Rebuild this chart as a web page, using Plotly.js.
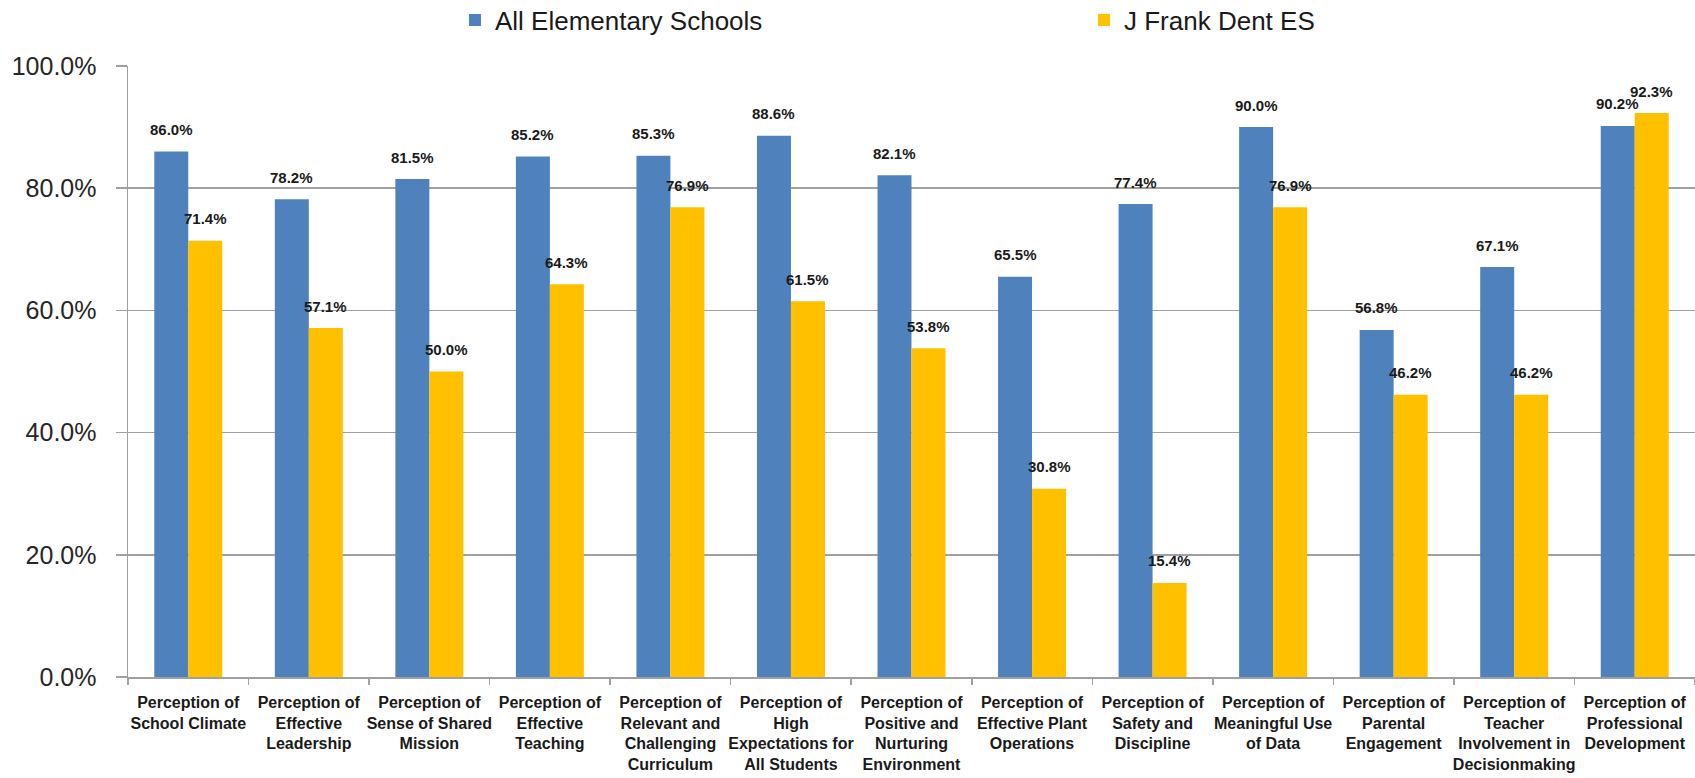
<!DOCTYPE html>
<html>
<head>
<meta charset="utf-8">
<script src="https://cdn.plot.ly/plotly-3.0.1.min.js"></script>
<style>
html,body{margin:0;padding:0;background:#fff;}
#chart{width:1695px;height:778px;}
</style>
</head>
<body>
<div id="chart"></div>
<script>
const categories = [
  "Perception of<br>School Climate",
  "Perception of<br>Effective<br>Leadership",
  "Perception of<br>Sense of Shared<br>Mission",
  "Perception of<br>Effective<br>Teaching",
  "Perception of<br>Relevant and<br>Challenging<br>Curriculum",
  "Perception of<br>High<br>Expectations for<br>All Students",
  "Perception of<br>Positive and<br>Nurturing<br>Environment",
  "Perception of<br>Effective Plant<br>Operations",
  "Perception of<br>Safety and<br>Discipline",
  "Perception of<br>Meaningful Use<br>of Data",
  "Perception of<br>Parental<br>Engagement",
  "Perception of<br>Teacher<br>Involvement in<br>Decisionmaking",
  "Perception of<br>Professional<br>Development"
];
const allElementary = [0.860, 0.782, 0.815, 0.852, 0.853, 0.886, 0.821, 0.655, 0.774, 0.900, 0.568, 0.671, 0.902];
const frankDent = [0.714, 0.571, 0.500, 0.643, 0.769, 0.615, 0.538, 0.308, 0.154, 0.769, 0.462, 0.462, 0.923];
const seriesNames = ["All Elementary Schools", "J Frank Dent ES"];
const seriesColors = ["#4F81BD", "#FFC000"];

const FONT = "Liberation Sans, Arial, sans-serif";
const traces = [allElementary, frankDent].map((vals, k) => ({
  type: "bar",
  name: seriesNames[k],
  x: categories,
  y: vals,
  marker: {color: seriesColors[k]},
  hoverinfo: "skip"
}));

const annotations = [];
[allElementary, frankDent].forEach((vals, k) => {
  vals.forEach((v, i) => {
    annotations.push({
      x: categories[i], y: v, xref: "x", yref: "y",
      text: (v * 100).toFixed(1) + "%",
      showarrow: false,
      xshift: k === 0 ? -17 : 17,
      yshift: 22,
      yanchor: "middle",
      font: {family: FONT, size: 15, color: "#1a1a1a", weight: "bold"}
    });
  });
});

const layout = {
  width: 1695, height: 778,
  margin: {l: 128, r: 0, t: 66, b: 101, autoexpand: false},
  paper_bgcolor: "#fff", plot_bgcolor: "#fff",
  barmode: "group",
  bargap: 0.436,
  bargroupgap: 0,
  showlegend: true,
  legend: {
    orientation: "h",
    xref: "container", yref: "container",
    x: 455 / 1695, xanchor: "left",
    y: (778 - 20) / 778, yanchor: "middle",
    entrywidth: 584, entrywidthmode: "pixels",
    font: {family: FONT, size: 26, color: "#1a1a1a"},
    itemclick: false, itemdoubleclick: false
  },
  xaxis: {
    type: "category",
    showline: true, linecolor: "#a0a0a0", linewidth: 1.5,
    ticks: "outside", tickson: "boundaries", ticklen: 6, tickcolor: "#a0a0a0", tickwidth: 1.5,
    tickangle: 0,
    ticklabelstandoff: 10,
    tickfont: {family: FONT, size: 16, color: "#1a1a1a", weight: "bold"},
    showgrid: false, automargin: false
  },
  yaxis: {
    range: [0, 1],
    tickvals: [0, 0.2, 0.4, 0.6, 0.8, 1.0],
    tickformat: ".1%",
    showline: true, linecolor: "#a0a0a0", linewidth: 1.5,
    ticks: "outside", ticklen: 11, tickcolor: "#a0a0a0", tickwidth: 1.5,
    ticklabelstandoff: 14,
    showgrid: true, gridcolor: "#a0a0a0", gridwidth: 1.5,
    zeroline: false,
    tickfont: {family: FONT, size: 25, color: "#262626"},
    automargin: false
  },
  annotations: annotations
};

Plotly.newPlot("chart", traces, layout, {displayModeBar: false, staticPlot: true});
</script>
</body>
</html>
